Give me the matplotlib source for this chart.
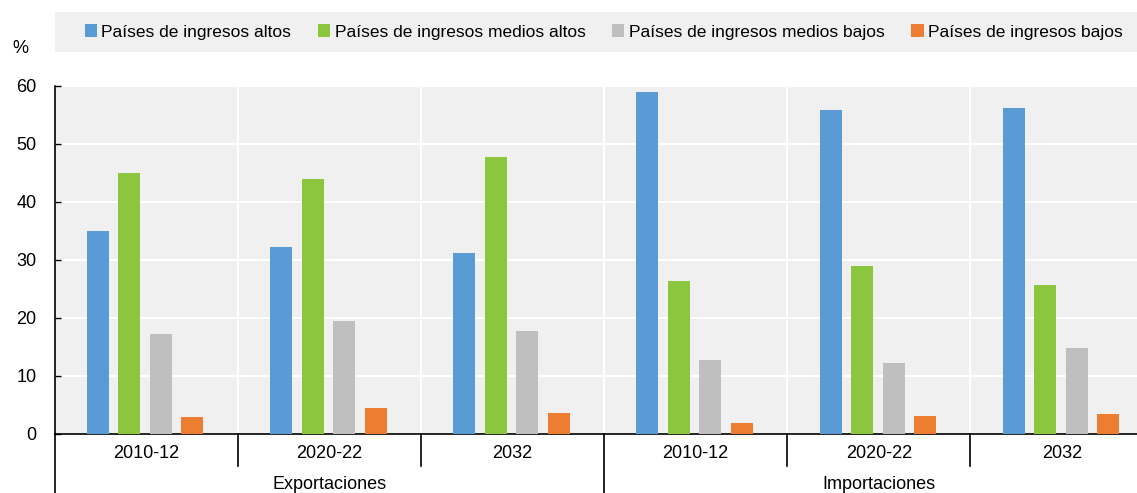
import matplotlib.pyplot as plt
import matplotlib.patches as mpatches
import numpy as np

plt.rcParams['font.family'] = ['Liberation Sans', 'DejaVu Sans']

series = ['Países de ingresos altos', 'Países de ingresos medios altos',
          'Países de ingresos medios bajos', 'Países de ingresos bajos']
periods = ['2010-12', '2020-22', '2032']
flows = ['Exportaciones', 'Importaciones']

# export groups first, then import groups
altos = [35.0, 32.2, 31.2, 59.0, 55.9, 56.2]
medios_altos = [45.0, 44.0, 47.8, 26.4, 29.0, 25.7]
medios_bajos = [17.2, 19.5, 17.8, 12.8, 12.2, 14.8]
bajos = [2.9, 4.5, 3.6, 1.9, 3.1, 3.4]

colors = ['#5b9bd5', '#8cc63f', '#bfbfbf', '#ed7d31']

fig = plt.figure(figsize=(11.37, 4.93), dpi=100)
ax = fig.add_axes([0.048, 0.12, 0.952, 0.706])
ax.set_facecolor('#f0f0f0')

x = np.arange(len(altos))
width = 0.12
step = 0.172
for i, (vals, name, c) in enumerate(zip([altos, medios_altos, medios_bajos, bajos], series, colors)):
    ax.bar(x + (i - 1.5) * step - 0.005, vals, width, color=c, label=name, zorder=3)

ax.set_xlim(-0.5, 5.41)
ax.set_ylim(0, 60)
ax.set_yticks(range(0, 61, 10))
ax.tick_params(axis='y', labelsize=13, length=4, direction='in', width=1, pad=13)
ax.set_xticks([])
ax.grid(axis='y', color='white', lw=1.5, zorder=1)
for b in np.arange(0.5, 5.5, 1):
    ax.axvline(b, color='white', lw=1.5, zorder=1)

for s in ['top', 'right']:
    ax.spines[s].set_visible(False)
ax.spines['left'].set_linewidth(1.2)
ax.spines['bottom'].set_linewidth(1.2)

trans = ax.get_xaxis_transform()
for i in range(len(altos)):
    ax.text(i, -0.032, periods[i % 3], ha='center', va='top', fontsize=13, transform=trans)
for b in [0.5, 1.5, 3.5, 4.5]:
    ax.plot([b, b], [0, -0.092], color='black', lw=1.2, transform=trans, clip_on=False)
for b in [-0.5, 2.5]:
    ax.plot([b, b], [0, -0.2], color='black', lw=1.2, transform=trans, clip_on=False)
for j, f in enumerate(flows):
    ax.text(1 + 3 * j, -0.122, f, ha='center', va='top', fontsize=13, transform=trans)

fig.text(0.011, 0.885, '%', ha='left', va='bottom', fontsize=13)

# legend background band
fig.patches.append(mpatches.Rectangle((0.048, 0.8945), 0.952, 0.0815, transform=fig.transFigure,
                                      facecolor='#f0f0f0', edgecolor='none', zorder=0))
fig.legend(loc='center', bbox_to_anchor=(0.531, 0.935), ncol=4, fontsize=12.5, frameon=False,
           handlelength=0.7, handleheight=0.7, handletextpad=0.25, columnspacing=1.55,
           borderaxespad=0)

fig.savefig('out.png', dpi=100)
